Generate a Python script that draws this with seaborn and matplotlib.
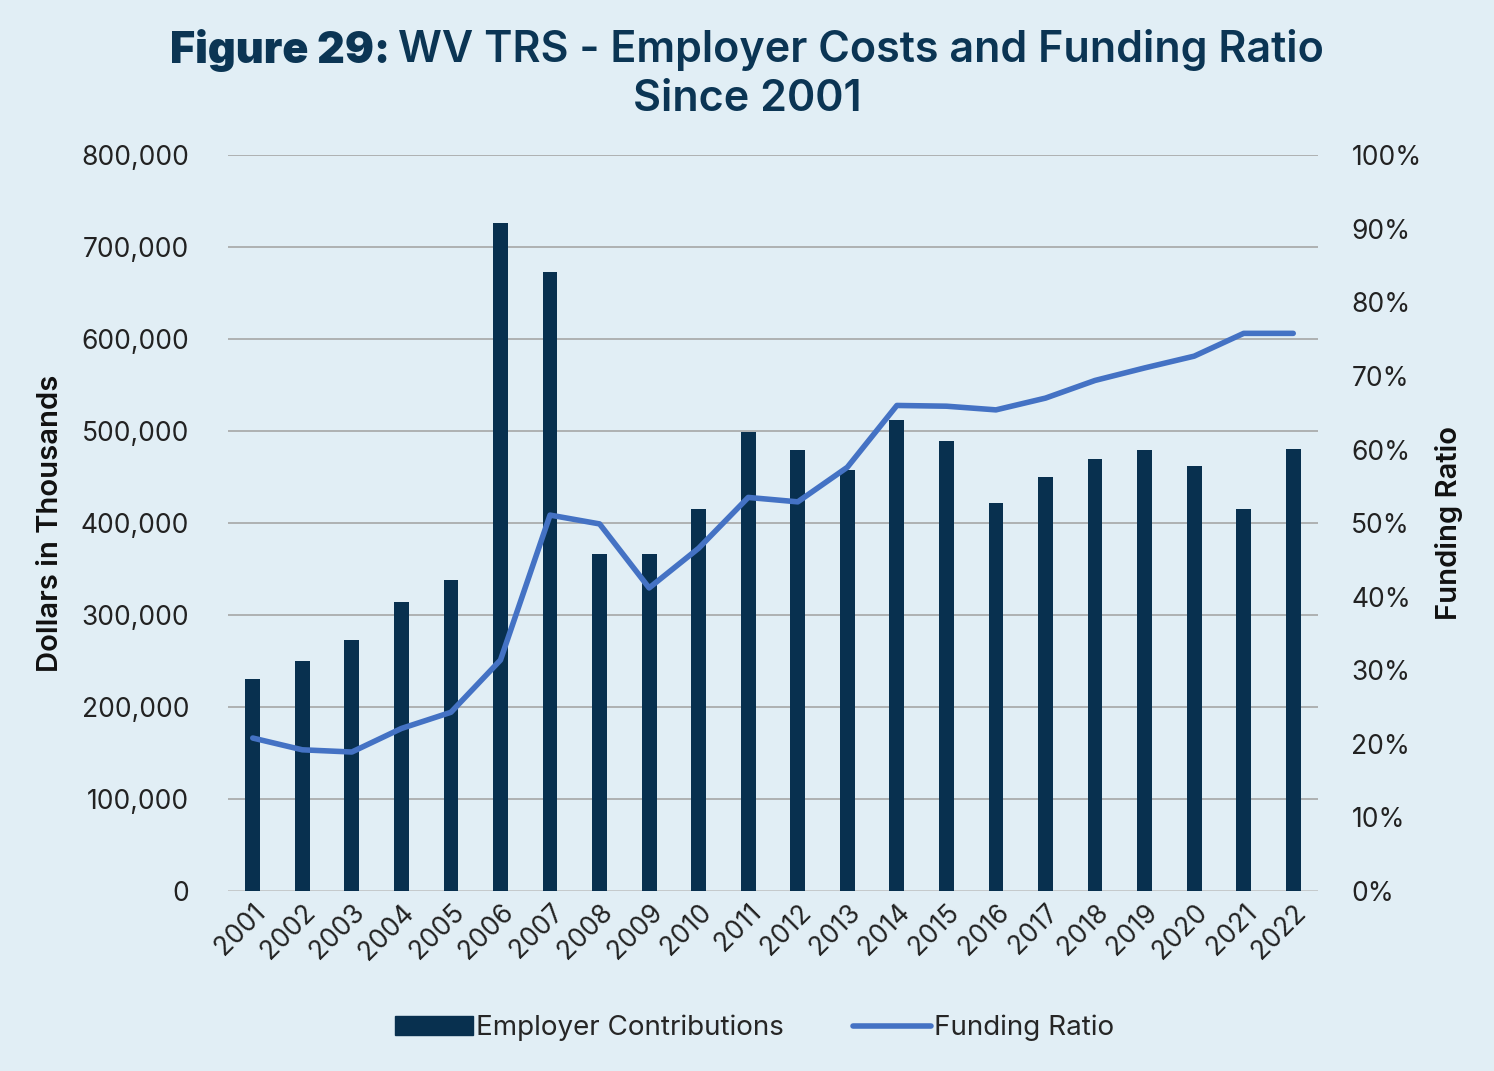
import numpy as np
import pandas as pd
import matplotlib
matplotlib.use("Agg")
import matplotlib.pyplot as plt
from matplotlib.patches import Patch
from matplotlib.lines import Line2D
from matplotlib.ticker import FuncFormatter, MultipleLocator
import seaborn as sns

years = [str(y) for y in range(2001, 2023)]
employer_contributions = [231000, 250000, 273000, 314000, 338000, 726000, 673000,
                          367000, 367000, 415000, 499000, 480000, 458000, 512000,
                          489000, 422000, 450000, 470000, 480000, 462000, 415000, 481000]
funding_ratio = [20.8, 19.2, 18.9, 22.1, 24.3, 31.4, 51.1, 49.9, 41.2, 46.6, 53.5,
                 52.9, 57.6, 66.0, 65.9, 65.4, 67.0, 69.4, 71.1, 72.7, 75.8, 75.8]

BG = "#E1EEF5"
NAVY = "#08304F"
BLUE = "#4472C4"
TITLE = "#0B3554"

sns.set_theme(style="white")
plt.rcParams["font.family"] = ["Inter", "DejaVu Sans"]

df = pd.DataFrame({"year": years, "contrib": employer_contributions,
                   "ratio": funding_ratio, "pos": np.arange(len(years))})

fig = plt.figure(figsize=(14.94, 10.71), dpi=100)
fig.patch.set_facecolor(BG)
ax = fig.add_axes([0.1526, 0.168, 0.7296, 0.687])
ax.set_facecolor(BG)

sns.barplot(data=df, x="year", y="contrib", color=NAVY, width=0.3,
            saturation=1, linewidth=0, ax=ax, zorder=3)
ax.set_ylim(0, 800000)
ax.set_xlim(-0.5, len(years) - 0.5)
ax.yaxis.set_major_locator(MultipleLocator(100000))
ax.yaxis.set_major_formatter(FuncFormatter(lambda v, p: f"{int(v):,}"))
ax.grid(axis="y", color="#A6A6A6", linewidth=1.2, zorder=0)
ax.set_axisbelow(True)
for s in ax.spines.values():
    s.set_visible(False)
ax.axhline(0, color="#C8CDD0", linewidth=2, zorder=2)
ax.tick_params(axis="y", labelsize=19, colors="#222222", length=0, pad=28)
ax.tick_params(axis="x", labelsize=19, colors="#222222", length=0, pad=6)
plt.setp(ax.get_xticklabels(), rotation=45, ha="right", rotation_mode="anchor")
ax.set_xlabel("")
ax.set_ylabel("Dollars in Thousands", fontsize=21, fontweight="semibold",
              color="#111111", labelpad=12)

ax2 = ax.twinx()
sns.lineplot(data=df, x="pos", y="ratio", color=BLUE, linewidth=4, ax=ax2,
             solid_capstyle="round", zorder=4)
ax2.set_ylim(0, 100)
ax2.yaxis.set_major_locator(MultipleLocator(10))
ax2.yaxis.set_major_formatter(FuncFormatter(lambda v, p: f"{int(v)}%"))
for s in ax2.spines.values():
    s.set_visible(False)
ax2.tick_params(axis="y", labelsize=19, colors="#222222", length=0, pad=24)
ax2.set_ylabel("Funding Ratio", fontsize=21, fontweight="semibold",
               color="#111111", labelpad=10)
ax2.set_xlim(-0.5, len(years) - 0.5)
ax2.grid(False)

# title: heavy "Figure 29:" followed by semibold rest, centred as a whole
fig.canvas.draw()
renderer = fig.canvas.get_renderer()
t1 = fig.text(0, 0.953, "Figure 29: ", ha="left", va="center", fontsize=31,
              fontweight="black", color=TITLE)
t2 = fig.text(0, 0.953, "WV TRS - Employer Costs and Funding Ratio", ha="left",
              va="center", fontsize=31, fontweight="semibold", color=TITLE)
w1 = t1.get_window_extent(renderer).width / fig.bbox.width
w2 = t2.get_window_extent(renderer).width / fig.bbox.width
x0 = 0.5 - (w1 + w2) / 2
t1.set_x(x0)
t2.set_x(x0 + w1)
fig.text(0.5, 0.907, "Since 2001", ha="center", va="center", fontsize=31,
         fontweight="semibold", color=TITLE)

handles = [Patch(facecolor=NAVY, edgecolor=NAVY),
           Line2D([0], [0], color=BLUE, linewidth=4, solid_capstyle="round")]
fig.legend(handles, ["Employer Contributions", "Funding Ratio"], loc="center",
           bbox_to_anchor=(0.505, 0.04), ncol=2, frameon=False, fontsize=20,
           handlelength=2.8, handletextpad=0.1, columnspacing=2.5)

fig.savefig("out.png", dpi=100, facecolor=BG)
